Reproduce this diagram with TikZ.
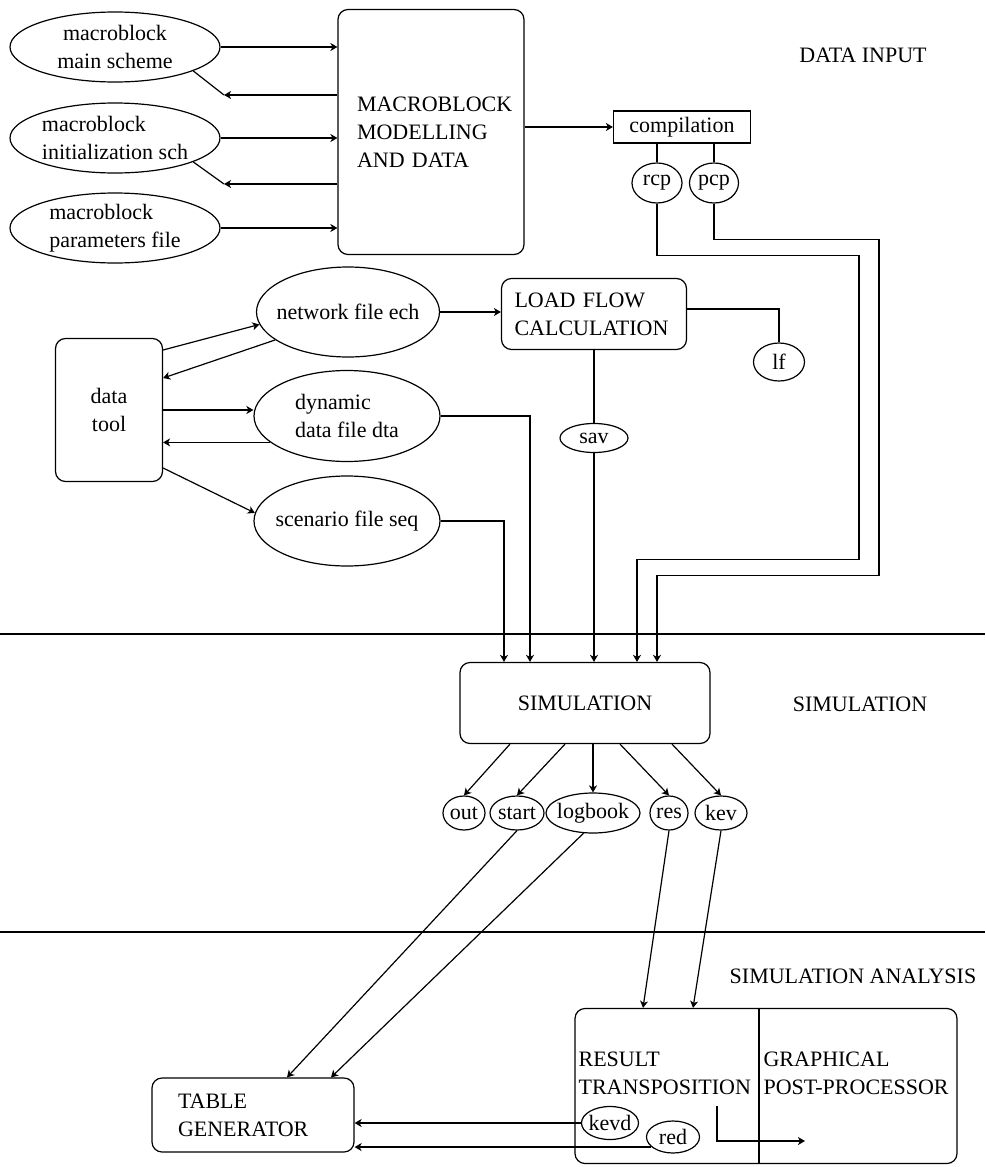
\documentclass[tikz,border=0pt]{standalone}
\usepackage{fontspec}
\setmainfont{Liberation Serif}
\usetikzlibrary{arrows.meta,shapes.geometric}

\begin{document}
\begin{tikzpicture}[x=1pt, y=-1pt, >={Stealth[length=7pt,width=8pt,inset=2pt]}, line width=1.2pt,
  font=\fontsize{22}{28}\selectfont,
  oval/.style={draw, ellipse, inner sep=0pt},
  otext/.style={label={[align=center, inner sep=0pt]center:#1}},
  otextl/.style={label={[align=left, inner sep=0pt]center:#1}},
  blk/.style={draw, rounded corners=10pt, inner sep=0pt, align=left}]
\useasboundingbox (0,0) rectangle (985,1167);
\node[oval, minimum width=210pt, minimum height=70pt, otext={macroblock\\main scheme}] (ms) at (115,47) {};
\node[oval, minimum width=210pt, minimum height=70pt, otextl={macroblock\\initialization sch}] (is) at (115,138) {};
\node[oval, minimum width=210pt, minimum height=70pt, otextl={macroblock\\parameters file}] (pf) at (115,228) {};
\node[blk, minimum width=186pt, minimum height=245pt, text width=148pt] (mb) at (431,132) {MACROBLOCK\\MODELLING\\AND DATA};
\node[draw, minimum width=137pt, minimum height=32pt, inner sep=0pt] (comp) at (682,127) {compilation};
\node[oval, minimum width=50pt, minimum height=40pt, otext=rcp] (rcp) at (657,183) {};
\node[oval, minimum width=49pt, minimum height=40pt, otext=pcp] (pcp) at (714,183) {};
\node[blk, minimum width=185pt, minimum height=71pt, text width=159pt] (lfc) at (594,314) {LOAD FLOW\\CALCULATION};
\node[oval, minimum width=51pt, minimum height=38pt, otext=lf] (lfo) at (779,362) {};
\node[oval, minimum width=68pt, minimum height=29pt, otext=sav] (sav) at (594,438) {};
\node[blk, align=center, minimum width=107pt, minimum height=143pt] (dt) at (109,410) {data\\tool};
\node[oval, minimum width=183pt, minimum height=90pt, otext={network file ech}] (ne) at (348,312) {};
\node[oval, minimum width=186pt, minimum height=91pt, otextl={dynamic\\data file dta}] (dy) at (347,416) {};
\node[oval, minimum width=186pt, minimum height=90pt, otext={scenario file seq}] (sc) at (347,521) {};
\node[blk, align=center, minimum width=250pt, minimum height=81pt] (sim) at (585,703) {SIMULATION};
\node[oval, minimum width=42pt, minimum height=34pt, otext=out] (out) at (464,813) {};
\node[oval, minimum width=54pt, minimum height=34pt, otext=start] (st) at (517,813) {};
\node[oval, minimum width=94pt, minimum height=40pt, otext=logbook] (lb) at (593,813) {};
\node[oval, minimum width=38pt, minimum height=34pt, otext=res] (res) at (669,813) {};
\node[oval, minimum width=52pt, minimum height=34pt, otext=kev] (kev) at (721,813) {};
\node[blk, minimum width=202pt, minimum height=74pt, text width=150pt] (tg) at (253,1115) {TABLE\\GENERATOR};
\node[draw, rounded corners=10pt, minimum width=382pt, minimum height=155pt] (rb) at (766,1086) {};
\node[anchor=west, align=left, inner sep=0pt] (rt) at (578,1073) {RESULT\\TRANSPOSITION};
\node[anchor=west, align=left, inner sep=0pt] (gp) at (763,1073) {GRAPHICAL\\POST-PROCESSOR};
\node[oval, fill=white, minimum width=57pt, minimum height=33pt, otext=kevd] (kevd) at (610,1123) {};
\node[oval, fill=white, minimum width=53pt, minimum height=32pt, otext=red] (red) at (673,1137) {};
\node (lbin) at (863,55) {DATA INPUT};
\node (lbsim) at (860,704) {SIMULATION};
\node (lban) at (853,976) {SIMULATION ANALYSIS};
\coordinate (b1) at (224,95);
\coordinate (b2) at (224,184);
\coordinate (tp) at (717,1106);
\coordinate (pp) at (805,1141);
\draw (0,634) -- (985,634);
\draw (0,932) -- (985,932);
\draw ([xshift=-7pt]rb.north) -- ([xshift=-7pt]rb.south);
\foreach \u in {ms,is,pf} \draw[->] (\u.east) -- (\u.east -| mb.west);
\draw[->] (b1 -| mb.west) -- (b1);
\draw (b1) -- (ms.-17);
\draw[->] (b2 -| mb.west) -- (b2);
\draw (b2) -- (is.-17);
\draw[->] (comp.west -| mb.east) -- (comp.west);
\draw (comp.south -| rcp.north) -- (rcp.north);
\draw (comp.south -| pcp.north) -- (pcp.north);
\draw[->] ([yshift=60pt]dt.east) -- (ne.188);
\draw[->] (ne.-159) -- ([yshift=32pt]dt.east);
\draw[->] (dt.east) -- (dt.east -| dy.west);
\draw[->] (dy.-161) -- (dy.-161 -| dt.east);
\draw[->] ([yshift=-58pt]dt.east) -- (sc.175);
\draw[->] (ne.east) -- (ne.east -| lfc.west);
\draw ([yshift=5pt]lfc.east) -| (lfo.north);
\draw (lfc.south) -- (sav.north);
\draw[->] (dy.east) -| ([xshift=-55pt]sim.north);
\draw[->] (sc.east) -| ([xshift=-81pt]sim.north);
\draw[->] (sav.south) -- (sav.south |- sim.north);
\draw[->] (rcp.south) -- ++(0,52) -- ++(202,0) -- ++(0,304) -| ([xshift=52pt]sim.north);
\draw[->] (pcp.south) -- ++(0,36) -- ++(165,0) -- ++(0,336) -| ([xshift=72pt]sim.north);
\foreach \s/\e in {-75/out,-20/st,8/lb,35/res,87/kev} \draw[->] ([xshift=\s pt]sim.south) -- (\e.north);
\draw[->] (st.south) -- ([xshift=34pt]tg.north);
\draw[->] (lb.245) -- ([xshift=78pt]tg.north);
\draw[->] (res.south) -- ([xshift=-123pt]rb.north);
\draw[->] (kev.south) -- ([xshift=-73pt]rb.north);
\draw[->] (kevd.west) -- (kevd.west -| tg.east);
\draw[->] (red.205) -- (red.205 -| tg.east);
\draw[->] (tp) |- (pp);
\end{tikzpicture}
\end{document}
